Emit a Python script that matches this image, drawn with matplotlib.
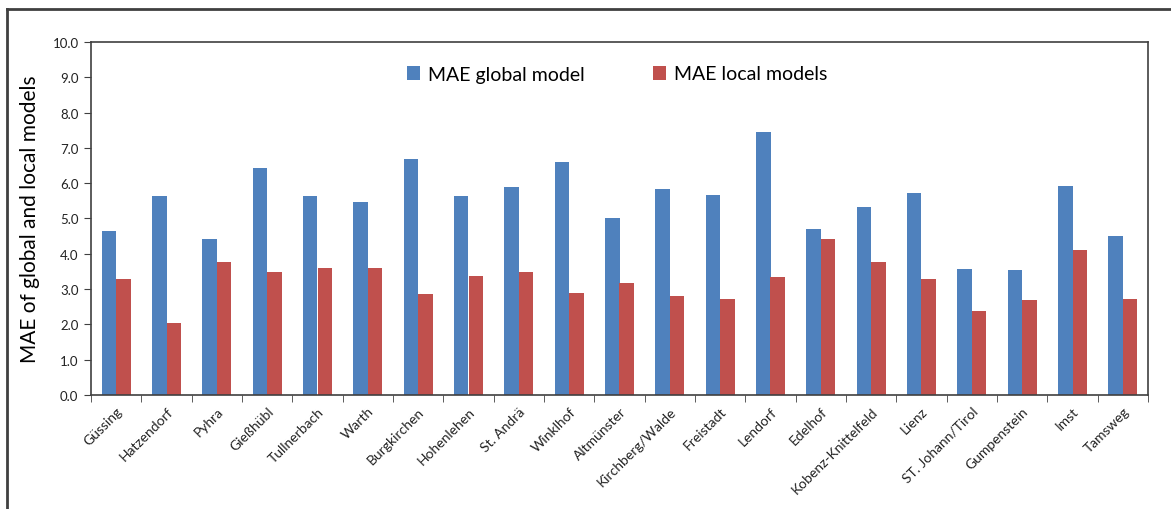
import numpy as np
import matplotlib.pyplot as plt
from matplotlib.lines import Line2D

# station names and MAE values
stations = ['Güssing', 'Hatzendorf', 'Pyhra', 'Gießhübl', 'Tullnerbach', 'Warth',
            'Burgkirchen', 'Hohenlehen', 'St. Andrä', 'Winklhof', 'Altmünster',
            'Kirchberg/Walde', 'Freistadt', 'Lendorf', 'Edelhof', 'Kobenz-Knittelfeld',
            'Lienz', 'ST. Johann/Tirol', 'Gumpenstein', 'Imst', 'Tamsweg']
mae_global = [4.66, 5.65, 4.41, 6.43, 5.63, 5.48, 6.68, 5.63, 5.88, 6.59, 5.01,
              5.83, 5.67, 7.44, 4.71, 5.33, 5.71, 3.56, 3.53, 5.91, 4.51]
mae_local = [3.29, 2.04, 3.76, 3.48, 3.61, 3.60, 2.85, 3.38, 3.48, 2.88, 3.18,
             2.81, 2.72, 3.33, 4.41, 3.76, 3.29, 2.37, 2.70, 4.10, 2.72]
yticks = [0, 1, 2, 3, 4, 5, 6, 7, 8, 9, 10]

blue = '#4F81BD'
red = '#C0504D'
plt.rcParams['font.family'] = ['Lato', 'DejaVu Sans']

fig = plt.figure(figsize=(11.71, 5.10), dpi=100)
ax = fig.add_axes([91 / 1171, 1 - 396 / 510, (1148 - 91) / 1171, (396 - 43) / 510])

x = np.arange(len(stations))
w = 1 / 3.5
ax.bar(x - w / 2, mae_global, w, color=blue, label='MAE global model')
ax.bar(x + w / 2, mae_local, w, color=red, label='MAE local models')

ax.set_xlim(-0.5, len(stations) - 0.5)
ax.set_ylim(0, 10)
ax.set_yticks(yticks)
ax.set_yticklabels([f'{v:.1f}' for v in yticks], fontsize=9.5, color='#222222')
ax.set_xticks(x)
ax.set_xticklabels(stations, rotation=45, ha='right', rotation_mode='anchor',
                   fontsize=10, color='#222222')
ax.tick_params(axis='x', length=0, pad=7)
ax.set_xticks(np.arange(-0.5, len(stations)), minor=True)
ax.tick_params(axis='x', which='minor', length=5, color='#404040')
ax.tick_params(axis='y', length=5, color='#404040', pad=4)

for s in ax.spines.values():
    s.set_color('#404040')
    s.set_linewidth(1.2)

ax.set_ylabel('MAE of global and local models', fontsize=15, labelpad=9)

leg = fig.legend(loc='center', bbox_to_anchor=(617 / 1171, 1 - 75 / 510), ncol=2,
                 frameon=False, fontsize=14, handlelength=0.7, handleheight=0.7,
                 handletextpad=0.4, columnspacing=3.5)

# outer frame of the original figure
fig.add_artist(Line2D([7 / 1171, 7 / 1171], [0, 1 - 10 / 510], color='#404040', lw=2))
fig.add_artist(Line2D([7 / 1171, 1], [1 - 10 / 510, 1 - 10 / 510], color='#404040', lw=2))

fig.savefig('out.png', dpi=100)
